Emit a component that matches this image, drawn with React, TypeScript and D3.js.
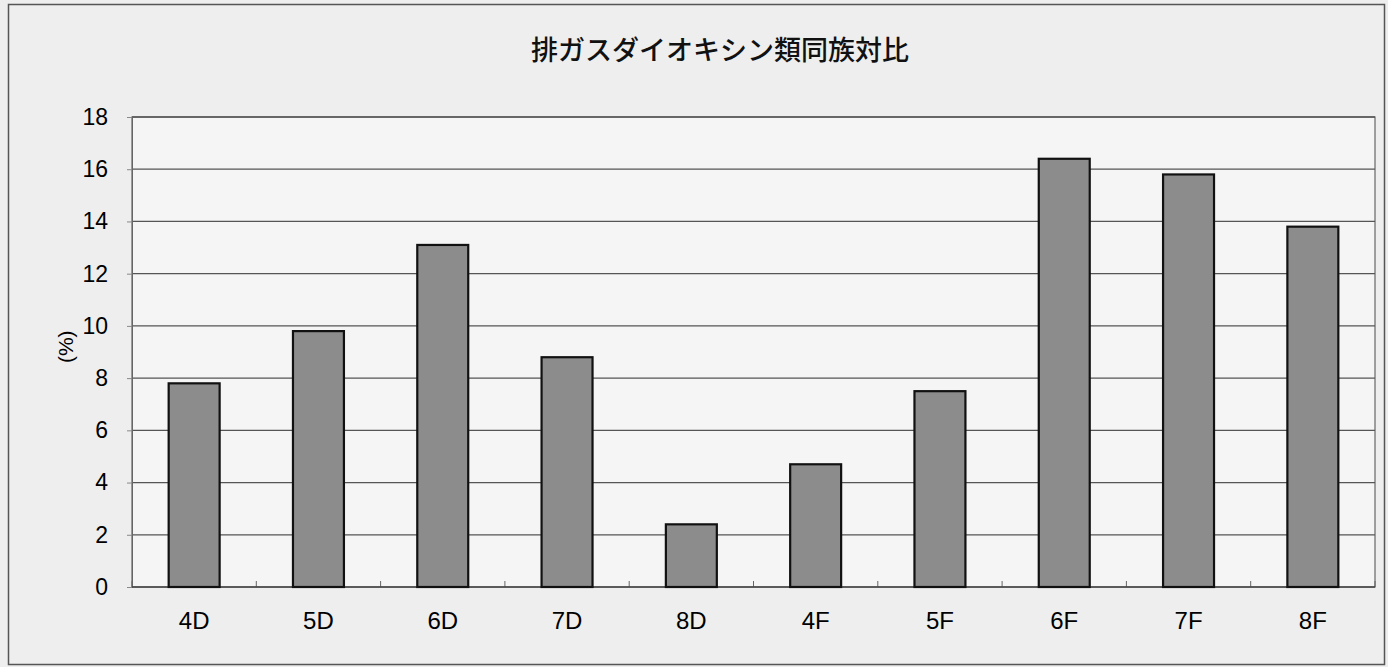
import React, { useEffect, useRef } from 'react';
import * as d3 from 'd3';

const title = '排ガスダイオキシン類同族対比';
const yLabel = '(%)';
const categories = ['4D', '5D', '6D', '7D', '8D', '4F', '5F', '6F', '7F', '8F'];
const values = [7.8, 9.8, 13.1, 8.8, 2.4, 4.7, 7.5, 16.4, 15.8, 13.8];
const yTicks = [0, 2, 4, 6, 8, 10, 12, 14, 16, 18];

const W = 1388;
const H = 667;

const App: React.FC = () => {
  const ref = useRef<SVGSVGElement | null>(null);

  useEffect(() => {
    if (!ref.current) return;
    const svg = d3.select(ref.current);
    svg.selectAll('*').remove();

    const margin = { top: 117, right: 13, bottom: 80, left: 132 };
    const width = W - margin.left - margin.right;
    const height = H - margin.top - margin.bottom;
    const font = 'Arial, "Liberation Sans", sans-serif';

    svg.append('rect').attr('width', W).attr('height', H).attr('fill', '#eeeeee');
    svg.append('rect')
      .attr('x', 8.5).attr('y', 4.5).attr('width', W - 12).attr('height', H - 7)
      .attr('fill', 'none').attr('stroke', '#555').attr('stroke-width', 1.5);

    svg.append('text')
      .attr('x', 720).attr('y', 60)
      .attr('text-anchor', 'middle')
      .attr('font-family', '"Noto Sans CJK JP", sans-serif')
      .attr('font-size', 27)
      .attr('font-weight', 500)
      .attr('fill', '#111')
      .text(title);

    const g = svg.append('g').attr('transform', `translate(${margin.left},${margin.top})`);

    const x = d3.scaleBand().domain(categories).range([0, width]).paddingInner(0.59).paddingOuter(0.295);
    const y = d3.scaleLinear().domain([0, 18]).range([height, 0]);

    g.append('rect').attr('width', width).attr('height', height)
      .attr('fill', '#f5f5f5').attr('stroke', '#666').attr('stroke-width', 1.2);

    g.selectAll('line.grid')
      .data(yTicks.filter(t => t > 0))
      .join('line')
      .attr('class', 'grid')
      .attr('x1', 0).attr('x2', width)
      .attr('y1', d => y(d)).attr('y2', d => y(d))
      .attr('stroke', '#555').attr('stroke-width', 1.3);

    const yAxis = g.append('g').call(d3.axisLeft(y).tickValues(yTicks).tickSize(5).tickPadding(19).tickFormat(d3.format('d')));
    yAxis.select('.domain').attr('stroke', '#666');
    yAxis.selectAll('line').attr('stroke', '#888');
    yAxis.selectAll('text').attr('font-size', 23).attr('font-family', font).attr('fill', '#000');

    const step = x.step();
    const xTicks = d3.range(categories.length + 1).map(i => i * step);
    g.selectAll('line.xtick')
      .data(xTicks)
      .join('line')
      .attr('class', 'xtick')
      .attr('x1', d => d).attr('x2', d => d)
      .attr('y1', height).attr('y2', height - 6)
      .attr('stroke', '#666');

    g.append('line').attr('x1', 0).attr('x2', width).attr('y1', height).attr('y2', height)
      .attr('stroke', '#444').attr('stroke-width', 1.5);

    g.selectAll('rect.bar')
      .data(values)
      .join('rect')
      .attr('class', 'bar')
      .attr('x', (_, i) => x(categories[i])!)
      .attr('width', x.bandwidth())
      .attr('y', d => y(d))
      .attr('height', d => height - y(d))
      .attr('fill', '#8c8c8c')
      .attr('stroke', '#111')
      .attr('stroke-width', 2.2);

    g.selectAll('text.xl')
      .data(categories)
      .join('text')
      .attr('class', 'xl')
      .attr('x', d => x(d)! + x.bandwidth() / 2)
      .attr('y', height + 42)
      .attr('text-anchor', 'middle')
      .attr('font-size', 24)
      .attr('font-family', font)
      .attr('fill', '#000')
      .text(d => d);

    svg.append('text')
      .attr('transform', `translate(67,${margin.top + y(9.2)}) rotate(-90)`)
      .attr('text-anchor', 'middle')
      .attr('dominant-baseline', 'middle')
      .attr('font-size', 21)
      .attr('font-family', font)
      .attr('fill', '#000')
      .text(yLabel);
  }, []);

  return <svg ref={ref} width={W} height={H} style={{ display: 'block', position: 'absolute', left: 0, top: 0 }} />;
};

export default App;
